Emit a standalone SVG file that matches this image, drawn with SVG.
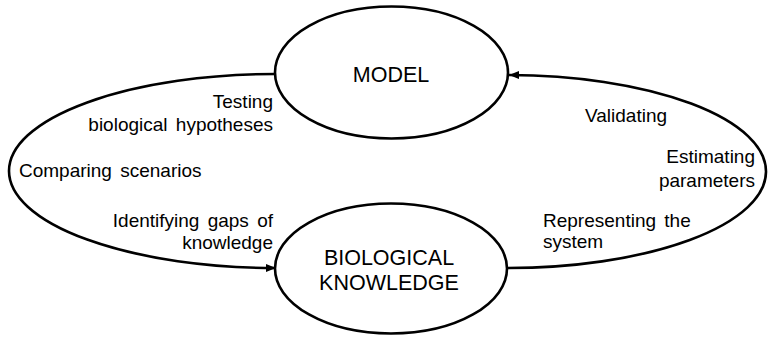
<svg xmlns="http://www.w3.org/2000/svg" width="768" height="337" viewBox="0 0 768 337">
<defs>
<style>
.node{fill:#fff;stroke:#000;stroke-width:2.6}
.conn{fill:none;stroke:#000;stroke-width:2.6}
.t{font-family:"Liberation Sans",Arial,sans-serif;fill:#000}
.big{font-size:21.5px;text-anchor:middle}
.lbl{font-size:19px;word-spacing:3px}
.r{text-anchor:end}
</style>
<marker id="ah" viewBox="0 0 10 8" refX="10" refY="4" markerWidth="10" markerHeight="8" markerUnits="userSpaceOnUse" orient="auto">
<path d="M0,0 L10,4 L0,8 Z" fill="#000"/>
</marker>
</defs>
<g id="connectors">
<path class="conn" d="M276,74 A267,97 0 0 0 276,268" marker-end="url(#ah)"/>
<path class="conn" d="M507,268 A258,96.5 0 0 0 509,75" marker-end="url(#ah)"/>
</g>
<g id="model">
<ellipse class="node" cx="391.5" cy="72.5" rx="116.5" ry="66"/>
<text class="t big" x="391" y="82">MODEL</text>
</g>
<g id="bio">
<ellipse class="node" cx="391" cy="268.5" rx="116" ry="65"/>
<text class="t big" x="389" y="265">BIOLOGICAL</text>
<text class="t big" x="389" y="290">KNOWLEDGE</text>
</g>
<g id="labels">
<text class="t lbl r" x="273" y="108">Testing</text>
<text class="t lbl r" x="273" y="131">biological hypotheses</text>
<text class="t lbl" x="19" y="177">Comparing scenarios</text>
<text class="t lbl r" x="273" y="227">Identifying gaps of</text>
<text class="t lbl r" x="273" y="249">knowledge</text>
<text class="t lbl" x="585" y="122">Validating</text>
<text class="t lbl r" x="755" y="163">Estimating</text>
<text class="t lbl r" x="755" y="187">parameters</text>
<text class="t lbl" x="543" y="227">Representing the</text>
<text class="t lbl" x="543" y="248">system</text>
</g>
</svg>
